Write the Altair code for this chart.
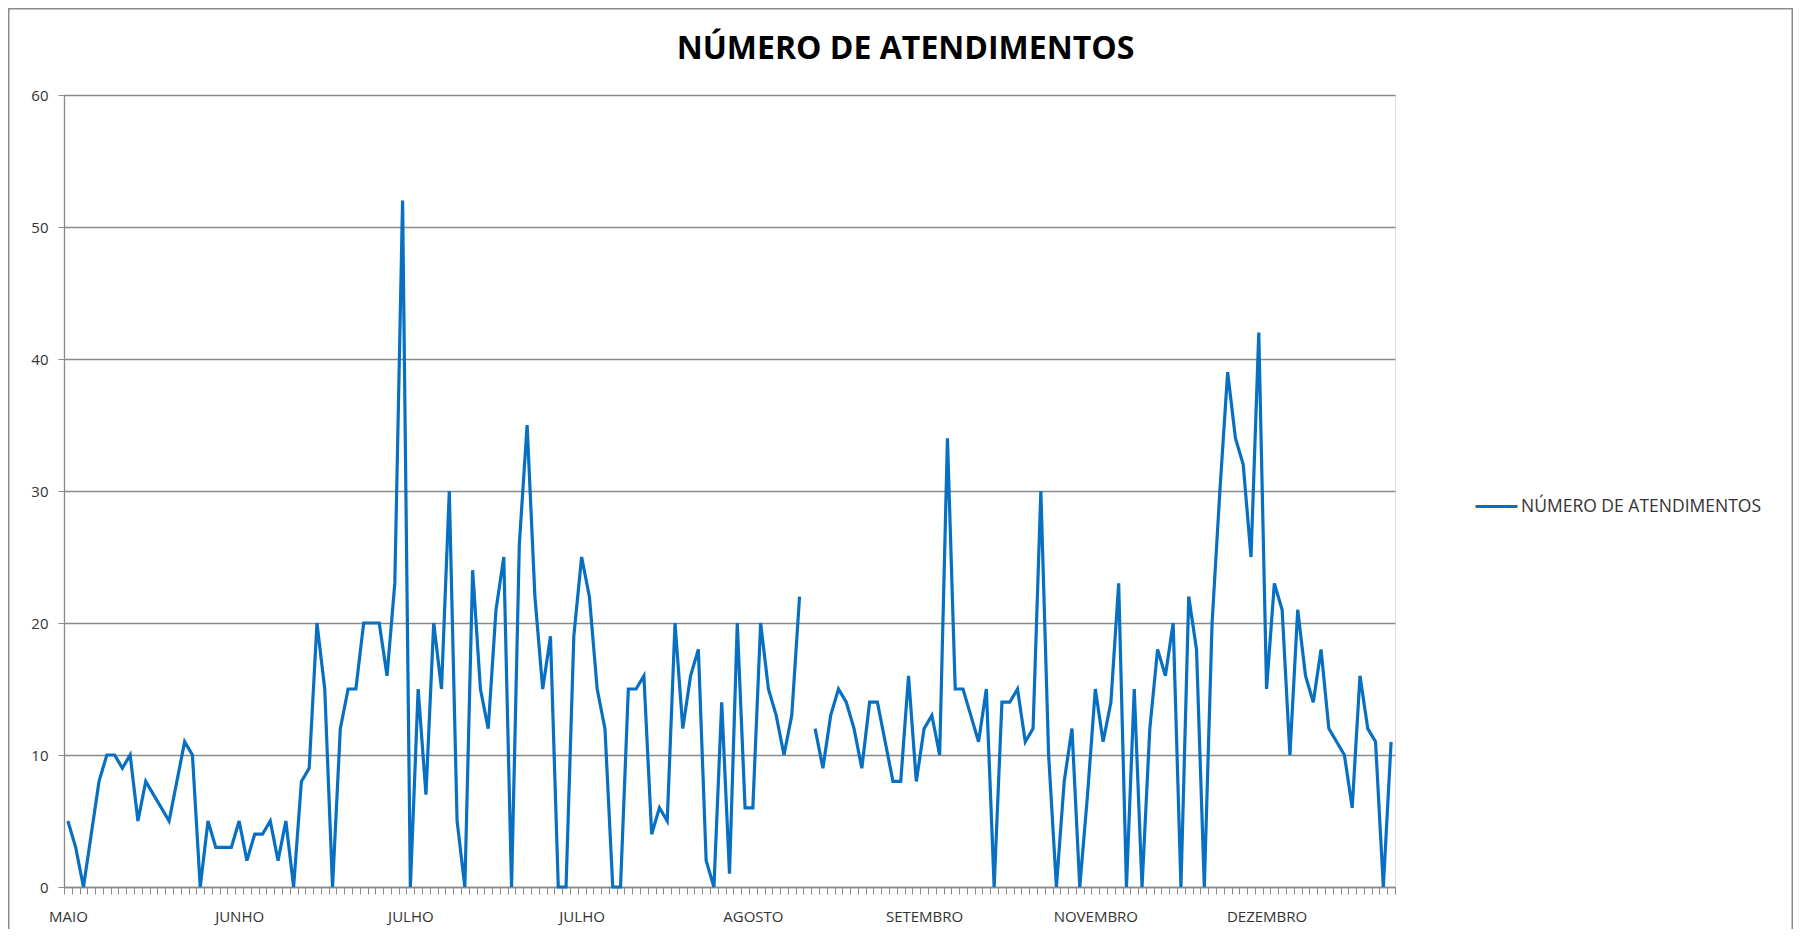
import altair as alt
import pandas as pd

# ---- data ----
serie_nome = "NÚMERO DE ATENDIMENTOS"
titulo = "NÚMERO DE ATENDIMENTOS"
meses = ["MAIO", "JUNHO", "JULHO", "JULHO", "AGOSTO", "SETEMBRO", "NOVEMBRO", "DEZEMBRO"]
passo_rotulo = 22  # a month label every 22 categories

bloco1 = [5, 3, 0, 4, 8, 10, 10, 9, 10, 5, 8, 7, 6, 5, 8, 11, 10, 0, 5, 3, 3, 3, 5, 2, 4, 4, 5, 2, 5]
bloco2 = [0, 8, 9, 20, 15, 0, 12, 15, 15, 20, 20, 20, 16, 23, 52, 0, 15, 7, 20, 15, 30, 5, 0, 24, 15, 12, 21, 25]
bloco3 = [0, 26, 35, 22, 15, 19, 0, 0, 19, 25, 22, 15, 12, 0, 0, 15, 15, 16, 4, 6, 5, 20, 12, 16, 18, 2, 0, 14]
bloco4 = [1, 20, 6, 6, 20, 15, 13, 10, 13, 22, None]
bloco5 = [12, 9, 13, 15, 14, 12, 9, 14, 14, 11, 8, 8, 16, 8, 12, 13, 10]
bloco6 = [34, 15, 15, 13, 11, 15, 0, 14, 14, 15, 11, 12, 30, 10, 0, 8, 12, 0, 7, 15, 11, 14, 23, 0, 15, 0, 12, 18, 16]
bloco7 = [20, 0, 22, 18, 0, 20, 30, 39, 34, 32, 25, 42, 15, 23, 21, 10, 21, 16, 14, 18, 12, 11, 10, 6, 16, 12, 11, 0, 11]

valores = bloco1 + bloco2 + bloco3 + bloco4 + bloco5 + bloco6 + bloco7
n = len(valores)

df = pd.DataFrame({
    "idx": list(range(n)),
    "valor": valores,
    "serie": [serie_nome] * n,
})

# ---- layout ----
L, T, R, B = 56, 87, 398, 42
W, H = 1331, 792
passo_px = W / n

fronteiras = [k - 0.5 for k in range(n + 1)]
lista_meses = "[" + ",".join("'" + m + "'" for m in meses) + "]"
label_expr = (
    f"((datum.value + 0.5) % {passo_rotulo} == 0 && (datum.value + 0.5) / {passo_rotulo} < {len(meses)}) "
    f"? {lista_meses}[floor((datum.value + 0.5) / {passo_rotulo})] : ''"
)

FONT = "Open Sans"
GRID = "#8a8a8a"
AZUL = "#0870c2"

x = alt.X(
    "idx:Q",
    scale=alt.Scale(domain=[-0.5, n - 0.5], nice=False, zero=False),
    axis=alt.Axis(
        title=None,
        values=fronteiras,
        labelExpr=label_expr,
        labelOffset=passo_px / 2,
        labelOverlap=False,
        labelFlush=False,
        labelBound=False,
        labelFont=FONT,
        labelFontSize=15,
        labelColor="#333333",
        labelPadding=15,
        tickSize=7,
        tickColor=GRID,
        tickWidth=1,
        domainColor=GRID,
        domainWidth=1.3,
        grid=False,
    ),
)

y = alt.Y(
    "valor:Q",
    scale=alt.Scale(domain=[0, 60], nice=False),
    axis=alt.Axis(
        title=None,
        values=[0, 10, 20, 30, 40, 50, 60],
        labelFont=FONT,
        labelFontSize=15,
        labelColor="#333333",
        labelPadding=10,
        tickSize=6,
        tickColor=GRID,
        domainColor=GRID,
        domainWidth=1.3,
        grid=True,
        gridColor=GRID,
        gridWidth=1.3,
    ),
)

linha = alt.Chart(df).mark_line(
    strokeWidth=3.2,
    invalid="break-paths-show-domains",
).encode(
    x=x,
    y=y,
    color=alt.Color(
        "serie:N",
        scale=alt.Scale(range=[AZUL]),
        legend=alt.Legend(
            title=None,
            orient="none",
            legendX=W + 79,
            legendY=389,
            symbolType="stroke",
            symbolSize=1764,
            symbolStrokeWidth=3,
            labelFont=FONT,
            labelFontSize=17.5,
            labelColor="#333333",
            labelOffset=2,
            labelLimit=0,
        ),
    ),
)

moldura = alt.Chart(pd.DataFrame({"a": [0]})).mark_rect(
    fill=None, stroke="#8c8c8c", strokeWidth=1.5
).encode(
    x=alt.value(-L + 0.75),
    x2=alt.value(W + R - 0.75),
    y=alt.value(-T + 0.75),
    y2=alt.value(H + B + 20),
)

texto_titulo = alt.Chart(pd.DataFrame({"t": [titulo]})).mark_text(
    font=FONT,
    fontSize=32,
    fontWeight="bold",
    color="#000000",
    align="center",
    baseline="alphabetic",
).encode(
    text="t:N",
    x=alt.value(W / 2 + 176),
    y=alt.value(-36),
)

chart = alt.layer(moldura, linha, texto_titulo).properties(
    width=W,
    height=H,
    padding={"left": L, "top": T, "right": R, "bottom": B},
    autosize=alt.AutoSizeParams(type="none"),
).configure_view(stroke=None).configure(background="white")

chart.save("out.html", embed_options={"renderer": "svg", "actions": False})
